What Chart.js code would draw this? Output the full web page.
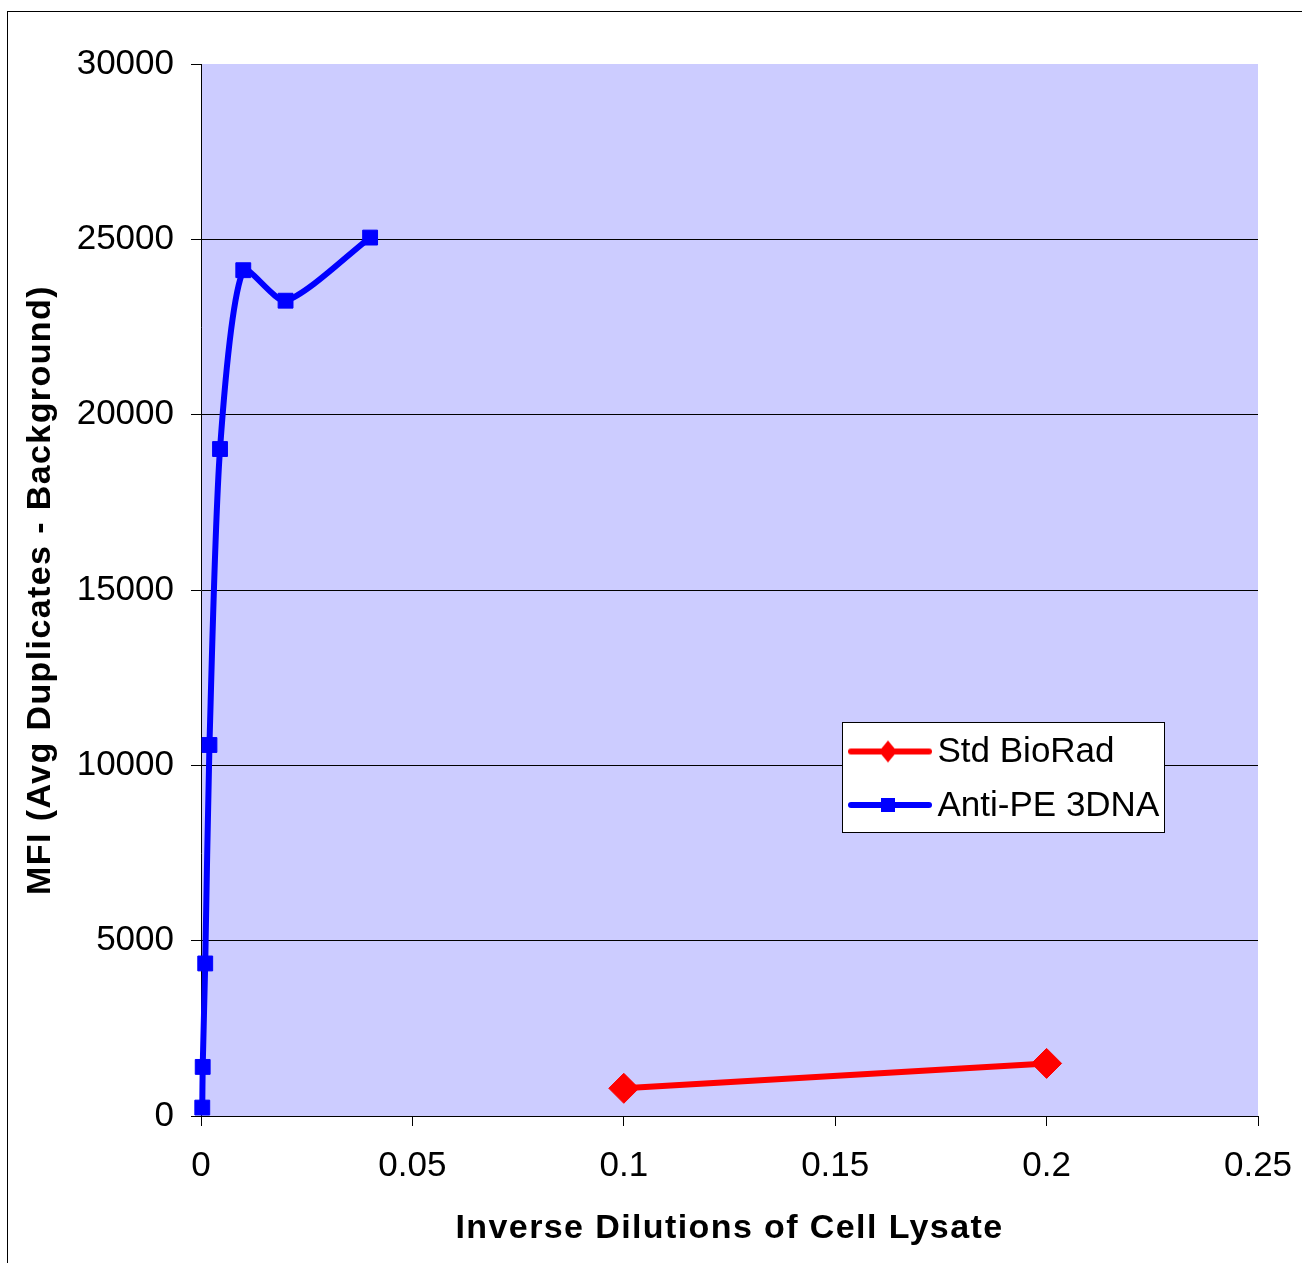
<!DOCTYPE html>
<html>
<head>
<meta charset="utf-8">
<script src="https://cdn.jsdelivr.net/npm/chart.js@4.4.1/dist/chart.umd.min.js"></script>
<style>
html,body{margin:0;padding:0;background:#fff;}
#wrap{width:1302px;height:1263px;position:relative;overflow:hidden;}
canvas{display:block;}
</style>
</head>
<body>
<div id="wrap"><canvas id="c" width="1302" height="1263"></canvas></div>
<script>
// ---- data ----
const seriesNames = ['Std BioRad', 'Anti-PE 3DNA'];
const stdX = [0.1, 0.2];
const stdY = [790, 1500];
const antiX = [0.0003, 0.0004, 0.001, 0.002, 0.0045, 0.01, 0.02, 0.04];
const antiY = [240, 1400, 4350, 10580, 19020, 24120, 23250, 25050];
const xTickLabels = ['0', '0.05', '0.1', '0.15', '0.2', '0.25'];
const yTickLabels = ['0', '5000', '10000', '15000', '20000', '25000', '30000'];
const xTitle = 'Inverse Dilutions of Cell Lysate';
const yTitle = 'MFI (Avg Duplicates - Background)';

Chart.defaults.font.family = "'Liberation Sans', Arial, Helvetica, sans-serif";
Chart.defaults.color = '#000';

function labelFor(list, value) {
  const f = list.find(l => Math.abs(parseFloat(l) - value) < 1e-9);
  return f === undefined ? '' : f;
}

function makeMarker(color, shape) {
  const c = document.createElement('canvas');
  c.width = 84; c.height = 36;
  const g = c.getContext('2d');
  const cy = 17;
  g.strokeStyle = color; g.lineWidth = 6; g.lineCap = 'round';
  g.beginPath(); g.moveTo(3, cy); g.lineTo(81, cy); g.stroke();
  g.fillStyle = color;
  const cx = 40;
  if (shape === 'diamond') {
    g.beginPath();
    g.moveTo(cx - 9, cy); g.lineTo(cx, cy - 11); g.lineTo(cx + 9, cy); g.lineTo(cx, cy + 11);
    g.closePath(); g.fill();
  } else {
    g.fillRect(cx - 7, cy - 7, 14, 14);
  }
  return c;
}
const legendMarkers = [makeMarker('#FF0000', 'diamond'), makeMarker('#0000FF', 'square')];

const decorPlugin = {
  id: 'decor',
  afterInit(chart) {
    const lg = chart.legend;
    const orig = lg.draw.bind(lg);
    lg.draw = function(area) {
      const ctx = this.ctx;
      ctx.save();
      ctx.fillStyle = '#FFFFFF';
      ctx.fillRect(842, 722, 323, 110);
      ctx.strokeStyle = '#000000';
      ctx.lineWidth = 1;
      ctx.strokeRect(842.5, 722.5, 322, 110);
      ctx.restore();
      this.left = 841.5; this.top = 716.5;
      this.right = this.left + 340; this.bottom = this.top + 200;
      orig(area);
    };
  },
  beforeDraw(chart) {
    const ctx = chart.ctx;
    const a = chart.chartArea;
    ctx.save();
    ctx.fillStyle = '#FFFFFF';
    ctx.fillRect(0, 0, chart.width, chart.height);
    ctx.strokeStyle = '#000000';
    ctx.lineWidth = 1;
    ctx.strokeRect(7.5, 11.5, 1400, 1400);
    ctx.fillStyle = '#CCCCFF';
    ctx.fillRect(a.left, a.top, a.right - a.left, a.bottom - a.top);
    ctx.restore();
    Object.values(chart.scales).forEach(s => {
      if (!s._lsWrapped) {
        const o = s.drawTitle;
        s.drawTitle = function() {
          const c = this.ctx;
          c.save();
          c.letterSpacing = '1.4px';
          o.apply(this, arguments);
          c.restore();
        };
        s._lsWrapped = true;
      }
    });
  }
};

new Chart(document.getElementById('c'), {
  type: 'line',
  data: {
    datasets: [
      {
        label: seriesNames[0],
        data: stdX.map((x, i) => ({x: x, y: stdY[i]})),
        borderColor: '#FF0000', backgroundColor: '#FF0000',
        borderWidth: 6, borderJoinStyle: 'round', borderCapStyle: 'round',
        pointStyle: 'rectRot', pointRadius: 15, pointBorderWidth: 1,
        pointBackgroundColor: '#FF0000', pointBorderColor: '#FF0000',
        tension: 0, clip: false
      },
      {
        label: seriesNames[1],
        data: antiX.map((x, i) => ({x: x, y: antiY[i]})),
        borderColor: '#0000FF', backgroundColor: '#0000FF',
        borderWidth: 6, borderJoinStyle: 'round', borderCapStyle: 'round',
        pointStyle: 'rect', pointRadius: 10.5, pointBorderWidth: 1,
        pointBackgroundColor: '#0000FF', pointBorderColor: '#0000FF',
        tension: 0.24, clip: false
      }
    ]
  },
  options: {
    responsive: false,
    animation: false,
    devicePixelRatio: 1,
    layout: {padding: {left: 0, top: 64, right: 44, bottom: 0}},
    plugins: {
      tooltip: {enabled: false},
      title: {display: false},
      legend: {
        display: true,
        position: 'chartArea',
        align: 'start',
        labels: {
          usePointStyle: true,
          pointStyleWidth: 60,
          padding: 18.5,
          color: '#000',
          font: {size: 35},
          generateLabels(chart) {
            return chart.data.datasets.map((ds, i) => ({
              text: ds.label,
              pointStyle: legendMarkers[i],
              fillStyle: ds.borderColor,
              strokeStyle: ds.borderColor,
              lineWidth: 0,
              hidden: false,
              datasetIndex: i,
              fontColor: '#000'
            }));
          }
        }
      }
    },
    scales: {
      x: {
        type: 'linear',
        min: 0, max: 0.25,
        afterFit(s) { s.height = 147; s.paddingRight = 0; s.paddingLeft = 0; },
        ticks: {
          stepSize: 0.05, padding: 19, color: '#000', font: {size: 35},
          maxRotation: 0, autoSkip: false,
          callback: (v) => labelFor(xTickLabels, v)
        },
        grid: {drawOnChartArea: false, drawTicks: true, tickLength: 10, color: '#000', lineWidth: 1},
        border: {display: true, color: '#000', width: 1},
        title: {display: true, text: xTitle, color: '#000', font: {size: 34, weight: 'bold'}, padding: {top: 0, bottom: 14}}
      },
      y: {
        type: 'linear',
        min: 0, max: 30000,
        afterFit(s) { s.width = 201; },
        ticks: {
          stepSize: 5000, padding: 17, color: '#000', font: {size: 35},
          callback: (v) => labelFor(yTickLabels, v)
        },
        grid: {
          color: (ctx) => (ctx.tick && ctx.tick.value === 30000) ? 'rgba(0,0,0,0)' : '#000',
          tickColor: '#000', tickLength: 10, drawTicks: true, lineWidth: 1
        },
        border: {display: true, color: '#000', width: 1},
        title: {display: true, text: yTitle, color: '#000', font: {size: 34, weight: 'bold'}, padding: {top: 20, bottom: 0}}
      }
    }
  },
  plugins: [decorPlugin]
});
</script>
</body>
</html>
